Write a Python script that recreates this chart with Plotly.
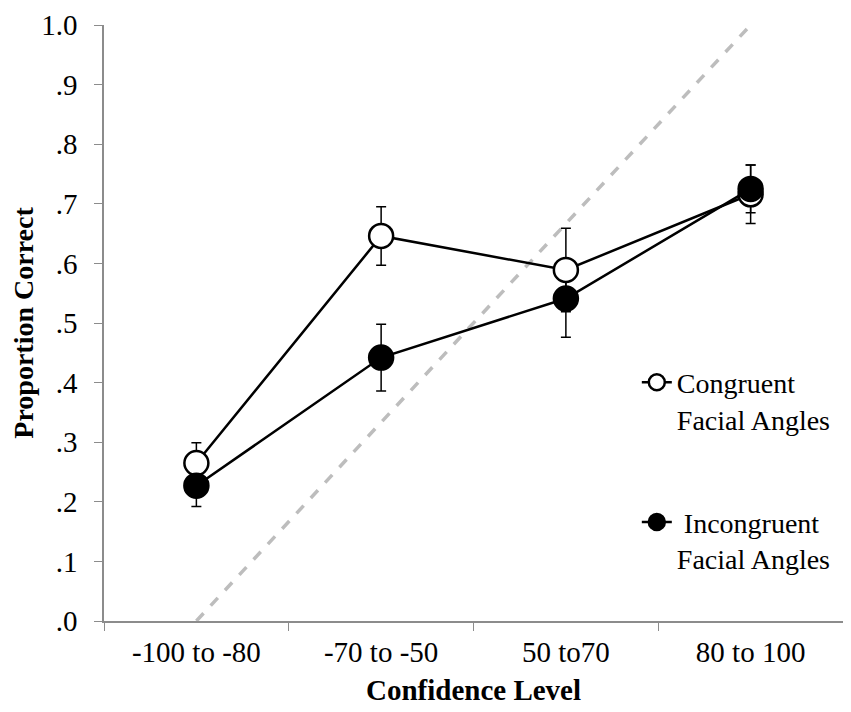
import plotly.graph_objects as go

# confidence bins (x categories)
categories = ["-100 to -80", "-70 to -50", "50 to70", "80 to 100"]

# proportion correct per bin
congruent = [0.265, 0.646, 0.589, 0.716]
congruent_err = [0.034, 0.049, 0.070, 0.049]
incongruent = [0.227, 0.442, 0.541, 0.725]
incongruent_err = [0.035, 0.056, 0.065, 0.040]

# perfect calibration reference (dashed)
calib_x = ["-100 to -80", "80 to 100"]
calib_y = [0.0, 1.0]

y_ticks = [0.0, 0.1, 0.2, 0.3, 0.4, 0.5, 0.6, 0.7, 0.8, 0.9, 1.0]
y_tick_text = [".0", ".1", ".2", ".3", ".4", ".5", ".6", ".7", ".8", ".9", "1.0"]

FONT = "Liberation Serif, Times New Roman, serif"
AXIS_GREY = "#8c8c8c"

fig = go.Figure()

fig.add_trace(go.Scatter(
    x=calib_x, y=calib_y,
    mode="lines",
    line=dict(color="#bdbdbd", width=3.5, dash="dash"),
    hoverinfo="skip",
    showlegend=False,
))

# error bars first so all markers sit on top of them (as in Excel)
for vals, errs in [(congruent, congruent_err), (incongruent, incongruent_err)]:
    fig.add_trace(go.Scatter(
        x=categories, y=vals,
        mode="markers",
        marker=dict(size=1, color="rgba(0,0,0,0)"),
        error_y=dict(type="data", array=errs, visible=True,
                     color="black", thickness=1.5, width=5),
        hoverinfo="skip",
        showlegend=False,
    ))

fig.add_trace(go.Scatter(
    x=categories, y=congruent,
    mode="lines+markers",
    name="Congruent<br>Facial Angles",
    legendgroup="a",
    line=dict(color="black", width=2.5),
    marker=dict(symbol="circle", size=24, color="white",
                line=dict(color="black", width=2.5)),
))

fig.add_trace(go.Scatter(
    x=categories, y=incongruent,
    mode="lines+markers",
    name="\u00a0Incongruent<br>Facial Angles",
    legendgroup="b",
    line=dict(color="black", width=2.5),
    marker=dict(symbol="circle", size=24, color="black",
                line=dict(color="black", width=2.5)),
))

# page body adds an 8px offset, so margins are shifted to compensate
fig.update_layout(
    width=851,
    height=712,
    margin=dict(l=96, r=16, t=17, b=99),
    plot_bgcolor="white",
    paper_bgcolor="white",
    font=dict(family=FONT, size=29, color="black"),
    legend=dict(
        x=0.721, y=0.442, xanchor="left", yanchor="top",
        bgcolor="rgba(0,0,0,0)",
        font=dict(family=FONT, size=28, color="black"),
        valign="top",
        traceorder="grouped",
        tracegroupgap=64,
        itemwidth=30,
    ),
)

fig.update_xaxes(
    type="category",
    categoryorder="array", categoryarray=categories,
    range=[-0.5, 3.5],
    automargin=False,
    showline=True, linecolor=AXIS_GREY, linewidth=1.5,
    ticks="outside", tickson="boundaries", ticklen=8, tickcolor=AXIS_GREY,
    ticklabelstandoff=4,
    showgrid=False, zeroline=False,
    tickfont=dict(family=FONT, size=29),
    title=dict(text="<b>Confidence Level</b>", font=dict(family=FONT, size=29), standoff=13),
)

fig.update_yaxes(
    range=[0, 1.0],
    automargin=False,
    tickvals=y_ticks, ticktext=y_tick_text,
    ticklabeloverflow="allow",
    showline=True, linecolor=AXIS_GREY, linewidth=1.5,
    ticks="outside", ticklen=8, tickcolor=AXIS_GREY,
    ticklabelstandoff=11,
    showgrid=False, zeroline=False,
    tickfont=dict(family=FONT, size=29),
    title=dict(text="<b>Proportion Correct</b>", font=dict(family=FONT, size=28), standoff=13),
)

fig.write_html("out.html")
